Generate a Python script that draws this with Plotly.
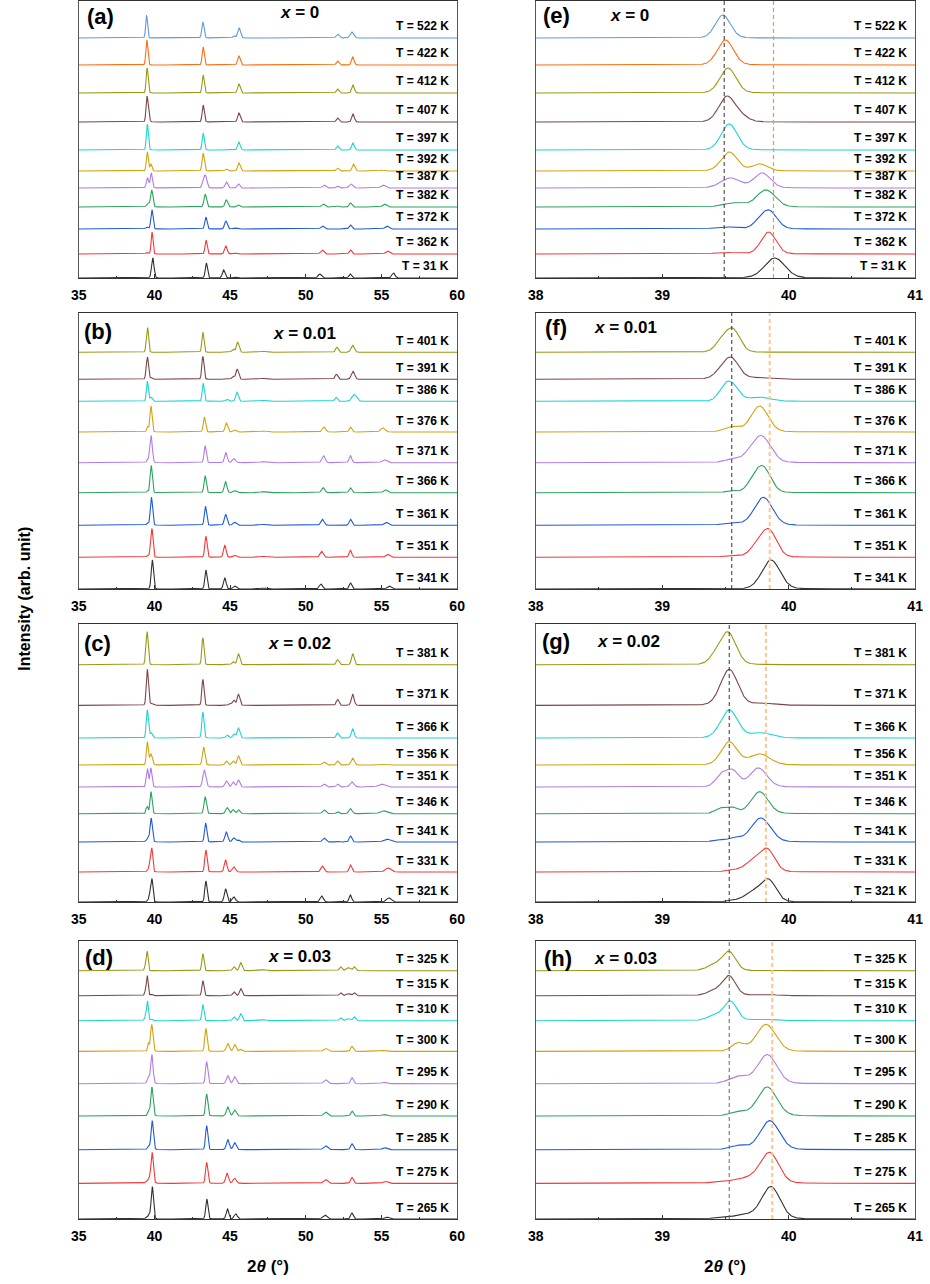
import numpy as np
import plotly.graph_objects as go

# ---------------- data ----------------
COLORS = ["#303030", "#F2383A", "#1E5BD6", "#2CA35C", "#B07DE6", "#D4A20E",
          "#1DD3D3", "#7C4646", "#999915", "#FF6C12", "#5E9BDA"]

COMPOSITIONS = ["0", "0.01", "0.02", "0.03"]
PANEL_LETTERS_LEFT = ["(a)", "(b)", "(c)", "(d)"]
PANEL_LETTERS_RIGHT = ["(e)", "(f)", "(g)", "(h)"]

LEFT_TICKS = [35, 40, 45, 50, 55, 60]
RIGHT_TICKS = [38, 39, 40, 41]

# temperatures (bottom -> top), stacking offsets (arb. unit), peaks (2theta, height, fwhm)
A_TEMPS = [31, 362, 372, 382, 387, 392, 397, 407, 412, 422, 522]
A_OFFSETS = [0, 24, 49, 71, 90, 107, 128, 156, 185, 213, 240]
A_PEAKS = [
    [(39.50, 0.6, 0.25), (39.89, 20, 0.19), (43.43, 15, 0.17), (44.57, 8, 0.2), (45.3, 1, 0.3), (50.92, 4, 0.25), (52.93, 4, 0.2), (55.79, 5, 0.25)],
    [(39.50, 1.5, 0.2), (39.84, 22, 0.14), (43.41, 14, 0.16), (44.72, 8, 0.2), (45.3, 1, 0.3), (51.08, 4, 0.25), (52.95, 4, 0.2), (55.40, 3, 0.3)],
    [(39.50, 2, 0.2), (39.77, 6, 0.12), (39.85, 17, 0.14), (43.40, 12, 0.17), (44.72, 8, 0.2), (45.3, 1, 0.3), (51.10, 3, 0.25), (52.95, 4, 0.2), (55.35, 3, 0.3)],
    [(39.57, 4, 0.2), (39.82, 17, 0.17), (43.35, 13, 0.19), (44.75, 7, 0.2), (45.55, 2, 0.2), (51.15, 3, 0.25), (52.1, 1, 0.2), (52.95, 4, 0.2), (55.2, 3, 0.3)],
    [(39.54, 10, 0.18), (39.79, 15, 0.15), (43.25, 9, 0.2), (43.40, 10, 0.2), (44.75, 6, 0.2), (45.55, 4, 0.2), (51.2, 3, 0.25), (52.1, 2, 0.2), (53.0, 4, 0.3), (55.1, 3, 0.35)],
    [(39.53, 19, 0.15), (39.77, 7, 0.14), (43.22, 18, 0.17), (44.75, 2, 0.2), (45.58, 8, 0.2), (52.1, 3, 0.2), (53.15, 7, 0.2), (55.0, 1, 0.3)],
    [(39.53, 26, 0.15), (43.22, 17, 0.16), (45.58, 8, 0.2), (52.1, 4, 0.2), (53.12, 7, 0.2)],
    [(39.51, 25, 0.15), (39.62, 5, 0.14), (43.22, 17, 0.16), (45.58, 9, 0.2), (52.1, 4, 0.2), (53.12, 8, 0.2)],
    [(39.52, 25, 0.15), (43.22, 18, 0.16), (45.58, 9, 0.2), (52.1, 4, 0.2), (53.12, 8, 0.2)],
    [(39.50, 25, 0.15), (43.22, 18, 0.16), (45.58, 9, 0.2), (52.1, 4, 0.2), (53.10, 8, 0.2)],
    [(39.48, 23, 0.14), (43.20, 16, 0.17), (45.25, 2, 0.2), (45.60, 10, 0.22), (52.1, 4, 0.22), (53.05, 6, 0.28)],
]

B_TEMPS = [341, 351, 361, 366, 371, 376, 386, 391, 401]
B_OFFSETS = [0, 31.7, 63.7, 96.3, 126.3, 157, 187.7, 209.7, 236.7]
B_PEAKS = [
    [(39.86, 29, 0.17), (43.40, 19, 0.17), (44.65, 11, 0.2), (45.3, 3, 0.25), (47.2, 1, 0.5), (51.0, 5, 0.25), (52.95, 6, 0.2), (55.5, 3, 0.3)],
    [(39.55, 1, 0.2), (39.76, 12, 0.14), (39.85, 24, 0.14), (43.40, 21, 0.17), (44.65, 12, 0.2), (45.3, 2, 0.25), (47.2, 1, 0.5), (51.05, 6, 0.25), (52.95, 7, 0.2), (55.4, 3, 0.3)],
    [(39.55, 1.5, 0.2), (39.80, 28, 0.17), (43.37, 19, 0.17), (44.70, 11, 0.2), (45.3, 3, 0.25), (47.2, 1, 0.5), (51.1, 6, 0.25), (52.95, 6, 0.2), (55.3, 3, 0.3)],
    [(39.55, 2, 0.1), (39.72, 9, 0.12), (39.80, 24, 0.14), (43.35, 17, 0.17), (44.70, 11, 0.2), (45.3, 2, 0.25), (47.2, 1, 0.5), (51.15, 5, 0.25), (52.95, 5, 0.2), (55.25, 3, 0.3)],
    [(39.55, 3, 0.14), (39.70, 6, 0.14), (39.79, 25, 0.17), (43.35, 17, 0.17), (44.72, 10, 0.2), (45.25, 4, 0.25), (47.2, 1, 0.5), (51.17, 7, 0.25), (52.95, 7, 0.2), (55.2, 3, 0.35)],
    [(39.55, 5, 0.14), (39.77, 26, 0.16), (43.30, 15, 0.17), (44.75, 9, 0.2), (45.3, 2, 0.25), (47.2, 1, 0.5), (51.2, 5, 0.25), (52.95, 5, 0.2), (55.1, 4, 0.35)],
    [(39.49, 12, 0.11), (39.56, 14, 0.12), (39.77, 4, 0.2), (43.22, 18, 0.16), (44.8, 2, 0.2), (45.45, 9, 0.2), (47.2, 1, 0.5), (52.0, 4, 0.2), (53.15, 5, 0.3), (53.3, 3, 0.3)],
    [(39.47, 7, 0.14), (39.55, 19, 0.14), (39.75, 1.5, 0.2), (43.20, 23, 0.16), (45.2, 3, 0.2), (45.47, 10, 0.2), (47.2, 1, 0.5), (52.02, 5, 0.2), (53.12, 8, 0.25)],
    [(39.47, 10, 0.12), (39.56, 22, 0.13), (43.20, 20, 0.16), (45.2, 3, 0.2), (45.5, 10, 0.2), (47.2, 1, 0.5), (52.05, 5, 0.2), (53.1, 7, 0.25)],
]

C_TEMPS = [321, 331, 341, 346, 351, 356, 366, 371, 381]
C_OFFSETS = [0, 30, 60, 88.3, 115, 137, 164, 196.6, 237.3]
C_PEAKS = [
    [(39.62, 2, 0.2), (39.72, 8, 0.14), (39.84, 22, 0.14), (43.40, 21, 0.17), (44.70, 13, 0.2), (45.25, 5, 0.25), (51.05, 6, 0.25), (52.95, 7, 0.2), (55.5, 4, 0.4)],
    [(39.60, 2, 0.2), (39.72, 9, 0.14), (39.83, 22, 0.14), (43.40, 22, 0.17), (44.70, 12, 0.2), (45.25, 5, 0.25), (51.1, 6, 0.25), (52.95, 7, 0.2), (55.45, 4, 0.45)],
    [(39.44, 2, 0.1), (39.57, 4, 0.12), (39.78, 24, 0.18), (43.38, 19, 0.17), (44.75, 10, 0.22), (45.25, 4, 0.22), (45.55, 2, 0.2), (51.2, 4, 0.25), (52.1, 1, 0.2), (52.95, 6, 0.2), (55.35, 3, 0.5)],
    [(39.46, 5, 0.1), (39.55, 6, 0.1), (39.77, 22, 0.16), (43.35, 17, 0.19), (44.8, 6, 0.22), (45.2, 4, 0.2), (45.55, 4, 0.2), (51.2, 4, 0.25), (52.1, 2, 0.2), (52.95, 5, 0.25), (55.1, 3, 0.5)],
    [(39.47, 12, 0.11), (39.56, 15, 0.11), (39.76, 19, 0.16), (43.30, 17, 0.24), (44.75, 6, 0.22), (45.2, 5, 0.2), (45.55, 7, 0.2), (51.2, 3, 0.25), (52.1, 3, 0.2), (53.05, 5, 0.3), (55.0, 3, 0.5)],
    [(39.53, 23, 0.15), (39.77, 11, 0.19), (43.25, 18, 0.19), (44.75, 4, 0.2), (45.2, 4, 0.2), (45.55, 9, 0.2), (51.2, 3, 0.25), (52.1, 4, 0.2), (53.1, 7, 0.25), (55.0, 1, 0.5)],
    [(39.53, 28, 0.16), (39.78, 5, 0.19), (43.20, 26, 0.16), (44.8, 3, 0.2), (45.25, 4, 0.2), (45.55, 10, 0.2), (52.1, 5, 0.2), (53.1, 9, 0.22)],
    [(39.53, 36, 0.16), (39.80, 2, 0.2), (43.20, 26, 0.16), (45.0, 2, 0.2), (45.25, 5, 0.2), (45.55, 11, 0.2), (52.1, 6, 0.2), (53.1, 11, 0.22)],
    [(39.42, 6, 0.12), (39.52, 32, 0.15), (43.20, 27, 0.16), (45.2, 3, 0.2), (45.55, 11, 0.2), (52.1, 5, 0.2), (53.1, 11, 0.2)],
]

D_TEMPS = [265, 275, 285, 290, 295, 300, 310, 315, 325]
D_OFFSETS = [0, 35.6, 69.3, 103, 135.3, 167.6, 198.3, 223.3, 248.3]
D_PEAKS = [
    [(39.55, 1.5, 0.3), (39.68, 3, 0.2), (39.86, 32, 0.17), (43.46, 20, 0.17), (44.83, 10, 0.2), (45.37, 5, 0.25), (51.25, 4, 0.3), (53.04, 6, 0.2), (55.35, 2, 0.35)],
    [(39.55, 2, 0.3), (39.70, 4, 0.2), (39.85, 30, 0.17), (43.45, 21, 0.17), (44.80, 10, 0.22), (45.3, 5, 0.25), (51.3, 4, 0.3), (53.05, 6, 0.2), (55.25, 2, 0.35)],
    [(39.60, 4, 0.15), (39.85, 29, 0.18), (43.45, 24, 0.17), (44.85, 10, 0.22), (45.3, 7, 0.22), (51.3, 4, 0.3), (53.05, 6, 0.2), (55.2, 2, 0.35)],
    [(39.60, 4, 0.15), (39.83, 29, 0.18), (43.45, 22, 0.17), (44.85, 9, 0.22), (45.3, 6, 0.22), (51.3, 4, 0.3), (53.05, 5, 0.2), (55.15, 1.5, 0.35)],
    [(39.60, 7, 0.17), (39.83, 29, 0.18), (43.45, 22, 0.17), (44.85, 8, 0.22), (45.3, 7, 0.22), (51.3, 4, 0.3), (53.05, 6, 0.2), (55.15, 1.5, 0.35)],
    [(39.60, 8, 0.12), (39.82, 27, 0.18), (43.40, 23, 0.17), (44.85, 8, 0.22), (45.3, 7, 0.2), (45.7, 2, 0.2), (51.3, 3, 0.3), (53.05, 5, 0.2), (55.1, 1, 0.35)],
    [(39.42, 5, 0.15), (39.54, 19, 0.12), (39.80, 1.5, 0.2), (43.20, 16, 0.16), (45.25, 4, 0.2), (45.7, 7, 0.2), (47.2, 1, 0.4), (52.3, 3, 0.2), (52.8, 2, 0.3), (53.2, 4, 0.2)],
    [(39.42, 5, 0.15), (39.53, 19, 0.12), (39.80, 1.5, 0.2), (43.20, 15, 0.16), (45.25, 4, 0.2), (45.7, 7, 0.2), (52.3, 3, 0.2), (52.8, 2, 0.3), (53.2, 3, 0.2)],
    [(39.42, 6, 0.15), (39.53, 18, 0.12), (43.20, 17, 0.16), (45.25, 4, 0.2), (45.7, 8, 0.2), (47.2, 1, 0.4), (52.3, 4, 0.2), (52.8, 3, 0.3), (53.2, 4, 0.2)],
]

# reference lines in the zoomed panels (2theta)
DASH_BLACK = [39.49, 39.55, 39.53, 39.53]
DASH_ORANGE = [39.88, 39.85, 39.82, 39.87]

PANELS = [
    (A_TEMPS, A_OFFSETS, A_PEAKS),
    (B_TEMPS, B_OFFSETS, B_PEAKS),
    (C_TEMPS, C_OFFSETS, C_PEAKS),
    (D_TEMPS, D_OFFSETS, D_PEAKS),
]

# ---------------- layout geometry (pixels) ----------------
W, H = 930, 1284
LEFT_X = (72, 457)
RIGHT_X = (537, 923)
ROWS_Y = [(1, 278), (313, 589), (623.5, 902), (941, 1219)]  # top, bottom
Y_RANGES = [277, 276, 278.5, 278]


def px(x):
    return x / W


def py(y):
    return 1 - y / H


def xid(i):
    return "x" if i == 1 else f"x{i}"


def yid(i):
    return "y" if i == 1 else f"y{i}"


def pv_profile(x, peaks):
    y = np.zeros_like(x)
    for pos, h, w in peaks:
        d = (x - pos) / w
        g = np.exp(-4 * np.log(2) * d ** 2)
        l = 1.0 / (1.0 + 4 * d ** 2)
        y += h * (0.88 * g + 0.12 * l)
    return y


x_left = np.linspace(35, 60, 2501)
x_right = np.linspace(38, 41, 751)

fig = go.Figure()
annotations = []
shapes = []
layout_axes = {}

FONT = "Arial, Liberation Sans, sans-serif"

for r, (temps, offsets, peaks) in enumerate(PANELS):
    la = r + 1          # left axis index
    ra = r + 5          # right axis index
    for i, (t, off, pk) in enumerate(zip(temps, offsets, peaks)):
        col = COLORS[i]
        fig.add_trace(go.Scatter(x=x_left, y=off + pv_profile(x_left, pk), mode="lines",
                                 line=dict(color=col, width=1.1), showlegend=False,
                                 xaxis=xid(la), yaxis=yid(la), hoverinfo="skip"))
        fig.add_trace(go.Scatter(x=x_right, y=off + pv_profile(x_right, pk), mode="lines",
                                 line=dict(color=col, width=1.1), showlegend=False,
                                 xaxis=xid(ra), yaxis=yid(ra), hoverinfo="skip"))
        for ax in (la, ra):
            annotations.append(dict(x=0.985, xref=f"{xid(ax)} domain", y=off + 11.5, yref=yid(ax),
                                    text=f"<b>T = {t} K</b>", showarrow=False,
                                    xanchor="right", yanchor="middle",
                                    font=dict(family=FONT, size=12, color="black")))

    top, bot = ROWS_Y[r]
    for side, (xl, xr), rng, ticks, ax in (("L", LEFT_X, [35, 60], LEFT_TICKS, la),
                                           ("R", RIGHT_X, [38, 41], RIGHT_TICKS, ra)):
        xname = "xaxis" if ax == 1 else f"xaxis{ax}"
        yname = "yaxis" if ax == 1 else f"yaxis{ax}"
        layout_axes[xname] = dict(
            domain=[px(xl), px(xr)], range=rng, anchor=yid(ax),
            tickvals=ticks, ticktext=[f"<b>{v}</b>" for v in ticks],
            ticks="inside", ticklen=4, tickcolor="#333",
            minor=dict(ticks="inside", ticklen=2.5, dtick=(2.5 if side == "L" else 0.5),
                       tickcolor="#333"),
            showline=True, linecolor="#333", linewidth=1, mirror=True,
            showgrid=False, zeroline=False, ticklabelstandoff=4,
            tickfont=dict(family=FONT, size=14, color="black"))
        layout_axes[yname] = dict(
            domain=[py(bot), py(top)], range=[0, Y_RANGES[r]], anchor=xid(ax),
            showticklabels=False, ticks="", showgrid=False, zeroline=False,
            showline=True, linecolor="#555", linewidth=1, mirror=True)

    # dashed reference lines on the zoomed panel
    shapes.append(dict(type="line", xref=xid(ra), yref=f"{yid(ra)} domain",
                       x0=DASH_BLACK[r], x1=DASH_BLACK[r], y0=0, y1=1,
                       line=dict(color="#333" if r < 3 else "#666", width=1, dash="4px,3px")))
    shapes.append(dict(type="line", xref=xid(ra), yref=f"{yid(ra)} domain",
                       x0=DASH_ORANGE[r], x1=DASH_ORANGE[r], y0=0, y1=1,
                       line=dict(color="#FF9033" if r == 0 else "#FFC58F",
                                 width=1.2 if r == 0 else 2, dash="4px,3px")))

# panel letters and composition labels (pixel positions)
LETTER_POS_L = [(94, 16), (92, 332), (91, 643), (93, 957)]
LETTER_POS_R = [(558, 15), (558, 327), (558, 641), (560, 958)]
COMP_POS_L = [(297, 12), (302, 333), (297, 643), (297, 956)]
COMP_POS_R = [(632, 15), (628, 327), (631, 641), (628, 958)]

for r in range(4):
    for (lx, ly), letter in ((LETTER_POS_L[r], PANEL_LETTERS_LEFT[r]), (LETTER_POS_R[r], PANEL_LETTERS_RIGHT[r])):
        annotations.append(dict(x=px(lx), y=py(ly), xref="paper", yref="paper",
                                text=f"<b>{letter}</b>", showarrow=False,
                                xanchor="center", yanchor="middle",
                                font=dict(family=FONT, size=22, color="black")))
    for (cx, cy) in (COMP_POS_L[r], COMP_POS_R[r]):
        annotations.append(dict(x=px(cx), y=py(cy), xref="paper", yref="paper",
                                text=f"<b><i>x</i> = {COMPOSITIONS[r]}</b>", showarrow=False,
                                xanchor="center", yanchor="middle",
                                font=dict(family=FONT, size=17, color="black")))

# axis titles
for cx in ((LEFT_X[0] + LEFT_X[1]) / 2, (RIGHT_X[0] + RIGHT_X[1]) / 2):
    annotations.append(dict(x=px(cx), y=py(1266), xref="paper", yref="paper",
                            text="<b>2<i>θ</i> (°)</b>", showarrow=False,
                            xanchor="center", yanchor="middle",
                            font=dict(family=FONT, size=17, color="black")))
annotations.append(dict(x=px(16), y=py(599), xref="paper", yref="paper",
                        text="<b>Intensity (arb. unit)</b>", showarrow=False, textangle=-90,
                        xanchor="center", yanchor="middle",
                        font=dict(family=FONT, size=16, color="black")))

fig.update_layout(**layout_axes)
fig.update_layout(width=W, height=H, margin=dict(l=0, r=0, t=0, b=0),
                  paper_bgcolor="white", plot_bgcolor="white",
                  annotations=annotations, shapes=shapes, showlegend=False)

fig.write_html("out.html", config={"displayModeBar": False, "staticPlot": True},
               post_script="document.body.style.margin='0px';document.body.style.overflow='hidden';")
